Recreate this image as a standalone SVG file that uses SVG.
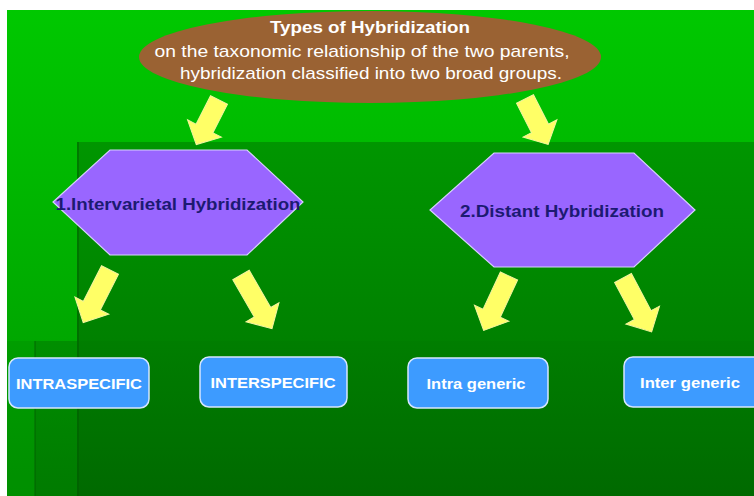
<svg xmlns="http://www.w3.org/2000/svg" width="754" height="496" viewBox="0 0 754 496">
<defs>
<linearGradient id="bg" x1="0" y1="0" x2="0" y2="1"><stop offset="0" stop-color="#00c800"/><stop offset="1" stop-color="#009800"/></linearGradient>
<linearGradient id="pa" x1="0" y1="0" x2="0" y2="1"><stop offset="0" stop-color="#009600"/><stop offset="1" stop-color="#007000"/></linearGradient>
<linearGradient id="pb" x1="0" y1="0" x2="0" y2="1"><stop offset="0" stop-color="#008200"/><stop offset="1" stop-color="#006a00"/></linearGradient>
</defs>
<style>
.arrow{fill:#ffff66;stroke:#f4f4a0;stroke-width:1}
.hex{fill:#9966ff;stroke:#d8d0ff;stroke-width:1.2}
.hext{font-family:"Liberation Sans",Arial,sans-serif;font-weight:bold;font-size:16px;fill:#1c1a72;text-anchor:middle}
.box{fill:#3d9bff;stroke:#d6e6ff;stroke-width:1.5}
.boxt{font-family:"Liberation Sans",Arial,sans-serif;font-weight:bold;font-size:15px;fill:#ffffff;text-anchor:middle}
.tt{font-family:"Liberation Sans",Arial,sans-serif;fill:#ffffff;text-anchor:middle;font-size:17px}
</style>
<rect x="0" y="0" width="754" height="496" fill="#ffffff"/>
<rect x="7" y="10" width="747" height="486" fill="url(#bg)"/>
<rect x="77" y="142" width="677" height="354" fill="url(#pa)"/>
<rect x="7" y="341" width="747" height="155" fill="#000" opacity="0.06"/>
<rect x="35" y="341" width="719" height="155" fill="url(#pb)" opacity="0.55"/>
<line x1="78" y1="142" x2="78" y2="496" stroke="#005a00" stroke-width="1.5" opacity="0.6"/>
<line x1="35" y1="341" x2="35" y2="496" stroke="#005a00" stroke-width="1.5" opacity="0.5"/>

<g id="root">
<ellipse cx="370" cy="57" rx="231" ry="46" fill="#9a6233"/>
<text class="tt" x="370" y="33" font-weight="bold" textLength="200" lengthAdjust="spacingAndGlyphs">Types of Hybridization</text>
<text class="tt" x="362" y="57" textLength="415" lengthAdjust="spacingAndGlyphs">on the taxonomic relationship of the two parents,</text>
<text class="tt" x="371" y="79" textLength="382" lengthAdjust="spacingAndGlyphs">hybridization classified into two broad groups.</text>
</g>

<g id="connectors">
<path class="arrow" transform="translate(219,100) rotate(27)" d="M-9.5,0 L9.5,0 L9.5,32 L19,32 L0,50 L-19,32 L-9.5,32 Z"/>
<path class="arrow" transform="translate(525,99) rotate(-27)" d="M-9.5,0 L9.5,0 L9.5,33 L19,33 L0,51 L-19,33 L-9.5,33 Z"/>
<path class="arrow" transform="translate(110,270) rotate(27)" d="M-9.5,0 L9.5,0 L9.5,40 L19,40 L0,59 L-19,40 L-9.5,40 Z"/>
<path class="arrow" transform="translate(241,275) rotate(-30)" d="M-9.5,0 L9.5,0 L9.5,43 L19,43 L0,62 L-19,43 L-9.5,43 Z"/>
<path class="arrow" transform="translate(509,276) rotate(25)" d="M-9.5,0 L9.5,0 L9.5,41 L19,41 L0,60 L-19,41 L-9.5,41 Z"/>
<path class="arrow" transform="translate(623,278) rotate(-28)" d="M-9.5,0 L9.5,0 L9.5,42 L19,42 L0,61 L-19,42 L-9.5,42 Z"/>
</g>

<g id="intervarietal">
<polygon class="hex" points="110,150 247,150 303,202 247,255 110,255 53,202"/>
<text class="hext" x="178" y="210" textLength="245" lengthAdjust="spacingAndGlyphs">1.Intervarietal Hybridization</text>
</g>

<g id="distant">
<polygon class="hex" points="494,153 634,153 695,210 634,267 494,267 430,210"/>
<text class="hext" x="562" y="217" textLength="204" lengthAdjust="spacingAndGlyphs">2.Distant Hybridization</text>
</g>

<g id="intraspecific">
<rect class="box" x="9" y="358" width="140" height="50" rx="9"/>
<text class="boxt" x="79" y="389" textLength="126" lengthAdjust="spacingAndGlyphs">INTRASPECIFIC</text>
</g>
<g id="interspecific">
<rect class="box" x="200" y="357" width="147" height="50" rx="9"/>
<text class="boxt" x="273" y="388" textLength="125" lengthAdjust="spacingAndGlyphs">INTERSPECIFIC</text>
</g>
<g id="intrageneric">
<rect class="box" x="408" y="358" width="140" height="50" rx="9"/>
<text class="boxt" x="476" y="389" textLength="99" lengthAdjust="spacingAndGlyphs">Intra generic</text>
</g>
<g id="intergeneric">
<rect class="box" x="624" y="357" width="145" height="50" rx="9"/>
<text class="boxt" x="690" y="388" textLength="100" lengthAdjust="spacingAndGlyphs">Inter generic</text>
</g>
</svg>
